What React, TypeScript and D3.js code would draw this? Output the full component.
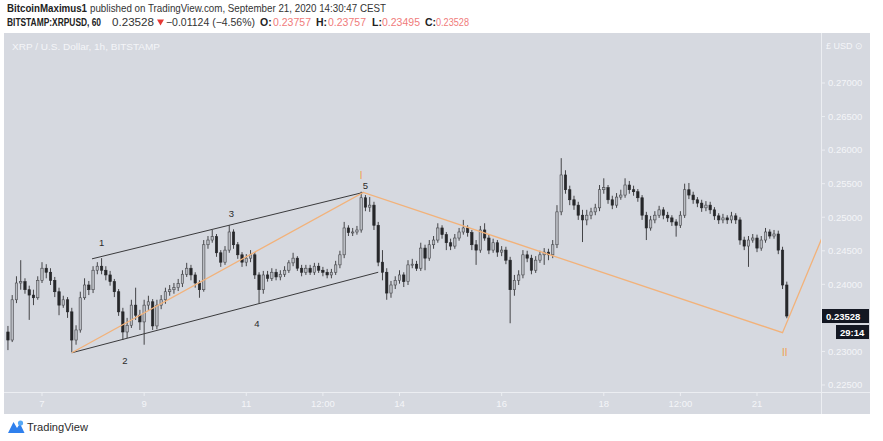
import React from "react";
import * as d3 from "d3";

// ---- data (2-hour candles, BITSTAMP:XRPUSD) ----
const START = Date.UTC(2020, 8, 6, 8); // first candle open time
const BAR_HOURS = 2;
const FIRST_OPEN = 0.2329;

const CLOSES = [
  0.2317, 0.2377, 0.2402, 0.2404, 0.2392, 0.2384, 0.2380, 0.2406, 0.2424, 0.2418,
  0.2406, 0.2389, 0.2369, 0.2377, 0.2359, 0.2317, 0.2332, 0.2380, 0.2399, 0.2392,
  0.2421, 0.2427, 0.2421, 0.2414, 0.2404, 0.2389, 0.2359, 0.2329, 0.2339, 0.2369,
  0.2354, 0.2344, 0.2369, 0.2374, 0.2338, 0.2369, 0.2377, 0.2389, 0.2392, 0.2395,
  0.2401, 0.2415, 0.2424, 0.2414, 0.2402, 0.2392, 0.2459, 0.2466, 0.2471, 0.2447,
  0.2433, 0.2451, 0.2478, 0.2459, 0.2444, 0.2433, 0.2439, 0.2444, 0.2414, 0.2392,
  0.2414, 0.2409, 0.2418, 0.2411, 0.2415, 0.2421, 0.2432, 0.2439, 0.2424, 0.2418,
  0.2424, 0.2418, 0.2427, 0.2421, 0.2418, 0.2414, 0.2418, 0.2429, 0.2444, 0.2484,
  0.2477, 0.2478, 0.2481, 0.2529, 0.2515, 0.2518, 0.2488, 0.2433, 0.2418, 0.2387,
  0.2399, 0.2406, 0.2414, 0.2404, 0.2429, 0.2430, 0.2424, 0.2454, 0.2439, 0.2459,
  0.2466, 0.2484, 0.2474, 0.2462, 0.2457, 0.2469, 0.2478, 0.2484, 0.2477, 0.2459,
  0.2451, 0.2481, 0.2469, 0.2451, 0.2462, 0.2448, 0.2451, 0.2436, 0.2392, 0.2406,
  0.2414, 0.2444, 0.2439, 0.2421, 0.2436, 0.2444, 0.2448, 0.2444, 0.2459, 0.2508,
  0.2563, 0.2541, 0.2526, 0.2518, 0.2503, 0.2496, 0.2503, 0.2508, 0.2514, 0.2541,
  0.2544, 0.2526, 0.2518, 0.2530, 0.2533, 0.2548, 0.2541, 0.2538, 0.2529, 0.2503,
  0.2484, 0.2496, 0.2503, 0.2511, 0.2503, 0.2499, 0.2493, 0.2488, 0.2503, 0.2541,
  0.2533, 0.2526, 0.2521, 0.2514, 0.2518, 0.2511, 0.2502, 0.2496, 0.2499, 0.2496,
  0.2502, 0.2496, 0.2466, 0.2457, 0.2466, 0.2469, 0.2454, 0.2466, 0.2478, 0.2472,
  0.2475, 0.2451, 0.2399, 0.23528,
];

const HIGHS = [
  0.2338, 0.2384, 0.2412, 0.2436, 0.2409, 0.2398, 0.2392, 0.2412, 0.2433, 0.2430,
  0.2424, 0.2411, 0.2395, 0.2383, 0.2381, 0.2365, 0.2339, 0.2389, 0.2409, 0.2405,
  0.2427, 0.2433, 0.2439, 0.2427, 0.2420, 0.2408, 0.2393, 0.2365, 0.2350, 0.2377,
  0.2395, 0.2362, 0.2377, 0.2383, 0.2378, 0.2377, 0.2384, 0.2395, 0.2399, 0.2402,
  0.2408, 0.2421, 0.2432, 0.2429, 0.2418, 0.2406, 0.2466, 0.2472, 0.2481, 0.2475,
  0.2451, 0.2457, 0.2488, 0.2482, 0.2463, 0.2448, 0.2445, 0.2451, 0.2448, 0.2418,
  0.2420, 0.2420, 0.2424, 0.2423, 0.2421, 0.2427, 0.2436, 0.2447, 0.2442, 0.2429,
  0.2429, 0.2429, 0.2432, 0.2432, 0.2426, 0.2423, 0.2423, 0.2435, 0.2450, 0.2493,
  0.2488, 0.2484, 0.2487, 0.2538, 0.2533, 0.2530, 0.2523, 0.2493, 0.2451, 0.2424,
  0.2405, 0.2412, 0.2421, 0.2418, 0.2436, 0.2438, 0.2435, 0.2462, 0.2459, 0.2466,
  0.2472, 0.2491, 0.2488, 0.2478, 0.2468, 0.2475, 0.2484, 0.2496, 0.2488, 0.2481,
  0.2466, 0.2487, 0.2491, 0.2474, 0.2468, 0.2466, 0.2457, 0.2456, 0.2441, 0.2414,
  0.2421, 0.2451, 0.2450, 0.2444, 0.2442, 0.2450, 0.2454, 0.2453, 0.2466, 0.2518,
  0.2588, 0.2570, 0.2547, 0.2532, 0.2523, 0.2511, 0.2511, 0.2514, 0.2520, 0.2548,
  0.2558, 0.2548, 0.2532, 0.2536, 0.2541, 0.2558, 0.2554, 0.2547, 0.2542, 0.2533,
  0.2508, 0.2502, 0.2509, 0.2517, 0.2515, 0.2508, 0.2503, 0.2497, 0.2509, 0.2550,
  0.2551, 0.2538, 0.2530, 0.2526, 0.2524, 0.2523, 0.2515, 0.2506, 0.2505, 0.2503,
  0.2508, 0.2506, 0.2500, 0.2471, 0.2472, 0.2475, 0.2474, 0.2472, 0.2484, 0.2482,
  0.2481, 0.2480, 0.2456, 0.2404,
];

const LOWS = [
  0.2302, 0.2314, 0.2372, 0.2392, 0.2386, 0.2347, 0.2369, 0.2377, 0.2402, 0.2409,
  0.2399, 0.2381, 0.2354, 0.2365, 0.2350, 0.2299, 0.2310, 0.2328, 0.2377, 0.2384,
  0.2387, 0.2415, 0.2415, 0.2406, 0.2398, 0.2381, 0.2353, 0.2317, 0.2320, 0.2335,
  0.2347, 0.2332, 0.2310, 0.2362, 0.2332, 0.2333, 0.2363, 0.2371, 0.2383, 0.2386,
  0.2390, 0.2396, 0.2411, 0.2406, 0.2395, 0.2380, 0.2389, 0.2453, 0.2462, 0.2441,
  0.2426, 0.2429, 0.2447, 0.2453, 0.2438, 0.2426, 0.2427, 0.2433, 0.2408, 0.2372,
  0.2386, 0.2404, 0.2405, 0.2406, 0.2406, 0.2411, 0.2417, 0.2427, 0.2420, 0.2412,
  0.2414, 0.2414, 0.2414, 0.2417, 0.2412, 0.2409, 0.2409, 0.2414, 0.2424, 0.2439,
  0.2472, 0.2472, 0.2474, 0.2477, 0.2509, 0.2508, 0.2481, 0.2427, 0.2406, 0.2377,
  0.2380, 0.2393, 0.2401, 0.2396, 0.2399, 0.2424, 0.2420, 0.2420, 0.2421, 0.2435,
  0.2453, 0.2462, 0.2468, 0.2451, 0.2451, 0.2453, 0.2465, 0.2474, 0.2471, 0.2451,
  0.2429, 0.2447, 0.2465, 0.2445, 0.2447, 0.2441, 0.2442, 0.2430, 0.2342, 0.2383,
  0.2399, 0.2409, 0.2433, 0.2415, 0.2417, 0.2432, 0.2429, 0.2436, 0.2439, 0.2454,
  0.2503, 0.2535, 0.2518, 0.2511, 0.2496, 0.2463, 0.2488, 0.2497, 0.2503, 0.2509,
  0.2535, 0.2520, 0.2512, 0.2514, 0.2526, 0.2529, 0.2535, 0.2532, 0.2523, 0.2496,
  0.2466, 0.2480, 0.2491, 0.2499, 0.2497, 0.2493, 0.2487, 0.2471, 0.2484, 0.2499,
  0.2527, 0.2520, 0.2515, 0.2508, 0.2509, 0.2505, 0.2496, 0.2490, 0.2491, 0.2490,
  0.2491, 0.2490, 0.2459, 0.2451, 0.2426, 0.2462, 0.2448, 0.2450, 0.2462, 0.2468,
  0.2468, 0.2445, 0.2393, 0.23495,
];

const PRICE_TICKS = [0.225, 0.23, 0.24, 0.245, 0.25, 0.255, 0.26, 0.265, 0.27];
const TIME_TICKS = [
  Date.UTC(2020, 8, 7), Date.UTC(2020, 8, 9), Date.UTC(2020, 8, 11), Date.UTC(2020, 8, 12, 12),
  Date.UTC(2020, 8, 14), Date.UTC(2020, 8, 16), Date.UTC(2020, 8, 18), Date.UTC(2020, 8, 19, 12),
  Date.UTC(2020, 8, 21),
];
const TIME_LABELS = ["7", "9", "11", "12:00", "14", "16", "18", "12:00", "21"];

// orange Elliott wave path
const WAVE_TIMES = [Date.UTC(2020, 8, 7, 14), Date.UTC(2020, 8, 13, 7), Date.UTC(2020, 8, 21, 12), Date.UTC(2020, 8, 22, 6, 30)];
const WAVE_PRICES = [0.2298, 0.2537, 0.2328, 0.2469];
// channel lines
const UPPER_TIMES = [Date.UTC(2020, 8, 7, 23, 30), Date.UTC(2020, 8, 13, 7)];
const UPPER_PRICES = [0.2438, 0.2537];
const LOWER_TIMES = [Date.UTC(2020, 8, 7, 14), Date.UTC(2020, 8, 13, 14)];
const LOWER_PRICES = [0.2298, 0.2418];
// wave labels
const LABEL_TEXT = ["1", "2", "3", "4", "5"];
const LABEL_TIMES = [Date.UTC(2020, 8, 8, 4), Date.UTC(2020, 8, 8, 15), Date.UTC(2020, 8, 10, 17), Date.UTC(2020, 8, 11, 5), Date.UTC(2020, 8, 13, 8)];
const LABEL_PRICES = [0.2463, 0.2287, 0.2506, 0.2341, 0.2547];
const BIG_LABEL_TEXT = ["I", "II"];
const BIG_LABEL_TIMES = [Date.UTC(2020, 8, 13, 6), Date.UTC(2020, 8, 21, 13)];
const BIG_LABEL_PRICES = [0.2562, 0.2299];

const LAST_PRICE = 0.23528;
const COUNTDOWN = "29:14";

const FONT = "'Liberation Sans', Arial, sans-serif";

export default function App() {
  const plot = { left: 4, right: 821, top: 33, bottom: 392 };
  const x = d3
    .scaleUtc()
    .domain([new Date(Date.UTC(2020, 8, 7)), new Date(Date.UTC(2020, 8, 21))])
    .range([42, 757]);
  const y = d3.scaleLinear().domain([0.225, 0.27]).range([385, 83]);

  const candles = CLOSES.map((c, i) => {
    const o = i === 0 ? FIRST_OPEN : CLOSES[i - 1];
    return {
      t: new Date(START + i * BAR_HOURS * 3600e3),
      o,
      c,
      h: Math.max(HIGHS[i], o, c),
      l: Math.min(LOWS[i], o, c),
    };
  });
  const bodyW = 2.4;

  const line = d3
    .line<[number, number]>()
    .x((d) => x(new Date(d[0])))
    .y((d) => y(d[1]));
  const wave = line(WAVE_TIMES.map((t, i) => [t, WAVE_PRICES[i]]));
  const upper = line(UPPER_TIMES.map((t, i) => [t, UPPER_PRICES[i]]));
  const lower = line(LOWER_TIMES.map((t, i) => [t, LOWER_PRICES[i]]));

  const gray = "#d6d9e0";
  const axisText = "#f4f5f8";
  const red = "#f07b7b";
  const dark = "#222";

  return (
    <svg
      width={883}
      height={441}
      style={{ position: "absolute", left: 0, top: 0, display: "block", background: "#fff" }}
      fontFamily={FONT}
    >
      <rect x={0} y={0} width={883} height={441} fill="#fff" />
      {/* header line 1 */}
      <text x={7} y={12} fontSize={10.5} fontWeight="bold" fill={dark} textLength={80} lengthAdjust="spacingAndGlyphs">
        BitcoinMaximus1
      </text>
      <text x={90} y={12} fontSize={10.5} fill="#333" textLength={296} lengthAdjust="spacingAndGlyphs">
        published on TradingView.com, September 21, 2020 14:30:47 CEST
      </text>
      {/* header line 2 */}
      <g transform="translate(7,26) scale(0.8,1)">
        <text x={0} y={0} fontSize={10.5} fontWeight="bold" fill={dark}>
          BITSTAMP:XRPUSD, 60
        </text>
      </g>
      <text x={112} y={26} fontSize={10.5} fill="#333" textLength={42} lengthAdjust="spacingAndGlyphs">0.23528</text>
      <path d="M157,19.5 L164,19.5 L160.5,25.5 Z" fill="#e53935" />
      <text x={166} y={26} fontSize={10.5} fill="#333" textLength={89} lengthAdjust="spacingAndGlyphs">−0.01124 (−4.56%)</text>
      <text x={260} y={26} fontSize={10.5} fontWeight="bold" fill={dark}>O:</text>
      <text x={273} y={26} fontSize={10.5} fill={red} textLength={38} lengthAdjust="spacingAndGlyphs">0.23757</text>
      <text x={316} y={26} fontSize={10.5} fontWeight="bold" fill={dark}>H:</text>
      <text x={328} y={26} fontSize={10.5} fill={red} textLength={38} lengthAdjust="spacingAndGlyphs">0.23757</text>
      <text x={372} y={26} fontSize={10.5} fontWeight="bold" fill={dark}>L:</text>
      <text x={382} y={26} fontSize={10.5} fill={red} textLength={38} lengthAdjust="spacingAndGlyphs">0.23495</text>
      <text x={425} y={26} fontSize={10.5} fontWeight="bold" fill={dark}>C:</text>
      <text x={436} y={26} fontSize={10.5} fill={red} textLength={33} lengthAdjust="spacingAndGlyphs">0.23528</text>

      {/* chart frame */}
      <rect x={4} y={33} width={866} height={381} fill={gray} />
      <line x1={4} x2={870} y1={392.5} y2={392.5} stroke="#eceef2" strokeWidth={1} />
      <line x1={821.5} x2={821.5} y1={33} y2={414} stroke="#eceef2" strokeWidth={1} />

      <text x={12} y={50} fontSize={9.5} fill={axisText} textLength={148} lengthAdjust="spacingAndGlyphs">
        XRP / U.S. Dollar, 1h, BITSTAMP
      </text>

      <defs>
        <clipPath id="plotClip">
          <rect x={plot.left} y={plot.top} width={plot.right - plot.left} height={plot.bottom - plot.top} />
        </clipPath>
      </defs>

      <g clipPath="url(#plotClip)">
        {candles.map((d, i) => {
          const cx = x(d.t);
          const up = d.c >= d.o;
          const top = y(Math.max(d.o, d.c));
          const bot = y(Math.min(d.o, d.c));
          return (
            <g key={i}>
              <line x1={cx} x2={cx} y1={y(d.h)} y2={y(d.l)} stroke="#333336" strokeWidth={0.9} />
              <rect
                x={cx - bodyW / 2}
                y={top}
                width={bodyW}
                height={Math.max(1, bot - top)}
                fill={up ? "#babdc3" : "#26272a"}
                stroke={up ? "#46474b" : "#26272a"}
                strokeWidth={0.6}
              />
            </g>
          );
        })}
        <path d={upper || ""} fill="none" stroke="#3a3a3c" strokeWidth={1} />
        <path d={lower || ""} fill="none" stroke="#3a3a3c" strokeWidth={1} />
        <path d={wave || ""} fill="none" stroke="#f2b27a" strokeWidth={1.3} />
        {LABEL_TEXT.map((t, i) => (
          <text
            key={t}
            x={x(new Date(LABEL_TIMES[i]))}
            y={y(LABEL_PRICES[i]) + 3.5}
            fontSize={9.5}
            fill="#2a2a2a"
            textAnchor="middle"
          >
            {t}
          </text>
        ))}
        {BIG_LABEL_TEXT.map((t, i) => (
          <text
            key={t}
            x={x(new Date(BIG_LABEL_TIMES[i]))}
            y={y(BIG_LABEL_PRICES[i]) + 3.5}
            fontSize={10}
            fill="#f0a04a"
            textAnchor="middle"
          >
            {t}
          </text>
        ))}
      </g>

      {/* price axis */}
      <text x={826} y={49} fontSize={9} fill={axisText}>£ USD ⊙</text>
      {PRICE_TICKS.map((p) => (
        <g key={p}>
          <line x1={821} x2={825} y1={y(p)} y2={y(p)} stroke="#eceef2" />
          <text x={828} y={y(p) + 3.3} fontSize={9.5} fill={axisText}>
            {p.toFixed(5)}
          </text>
        </g>
      ))}
      <rect x={822} y={y(LAST_PRICE) - 7} width={47} height={14} fill="#131722" />
      <text x={826} y={y(LAST_PRICE) + 3.5} fontSize={9.5} fontWeight="bold" fill="#fff">
        {LAST_PRICE.toFixed(5)}
      </text>
      <rect x={836} y={y(LAST_PRICE) + 9} width={33} height={14} fill="#131722" />
      <text x={840} y={y(LAST_PRICE) + 19.5} fontSize={9.5} fontWeight="bold" fill="#fff">
        {COUNTDOWN}
      </text>

      {/* time axis */}
      {TIME_TICKS.map((t, i) => (
        <g key={i}>
          <line x1={x(new Date(t))} x2={x(new Date(t))} y1={393} y2={396} stroke="#eceef2" />
          <text x={x(new Date(t))} y={407} fontSize={9.5} fill={axisText} textAnchor="middle">
            {TIME_LABELS[i]}
          </text>
        </g>
      ))}

      {/* TradingView logo */}
      <g>
        <path d="M8,433 L13.5,422 L17,428 L20,423.5 L24.5,433 Z" fill="#2f80ed" />
        <circle cx={20.5} cy={423} r={2.6} fill="#56a8f5" />
        <text x={27} y={431} fontSize={11} fill="#2b2b2b" textLength={61} lengthAdjust="spacingAndGlyphs">
          TradingView
        </text>
      </g>
    </svg>
  );
}
